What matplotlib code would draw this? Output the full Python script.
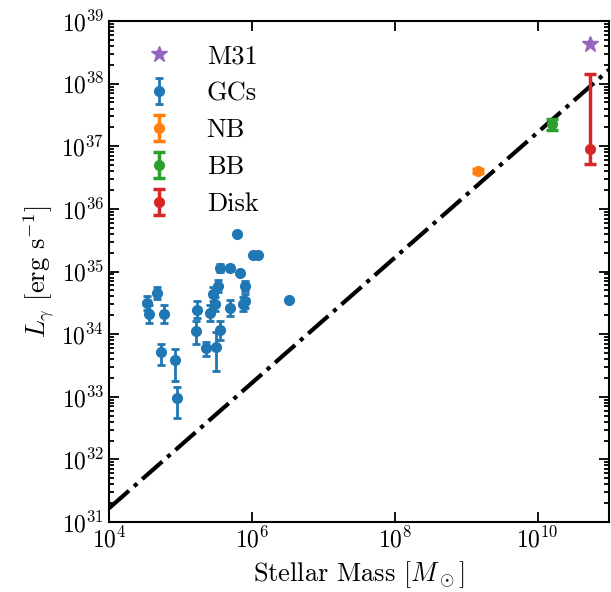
import numpy as np
import matplotlib
matplotlib.use("Agg")
import matplotlib.pyplot as plt
from matplotlib.ticker import LogLocator, NullLocator

plt.rcParams['font.family'] = 'serif'
plt.rcParams['font.serif'] = ['cmr10']
plt.rcParams['mathtext.fontset'] = 'cm'
plt.rcParams['axes.formatter.use_mathtext'] = True
plt.rcParams['font.size'] = 17

# globular clusters: stellar mass [Msun], L_gamma and its lower / upper bounds [erg/s]
gc_mass = [3.38e4, 3.64e4, 4.67e4, 5.97e4, 5.36e4, 8.43e4, 8.91e4, 1.70e5, 1.64e5,
           2.27e5, 3.14e5, 3.61e5, 2.61e5, 3.00e5, 2.90e5, 3.41e5, 3.61e5, 4.98e5,
           6.87e5, 6.18e5, 1.05e6, 1.23e6, 4.98e5, 8.07e5, 7.89e5, 7.57e5, 3.35e6]
gc_L = [3.12e34, 2.10e34, 4.60e34, 2.10e34, 5.25e33, 3.87e33, 9.46e32, 2.44e34, 1.12e34,
        5.96e33, 6.31e33, 1.17e34, 2.16e34, 3.01e34, 4.34e34, 5.96e34, 1.15e35, 1.13e35,
        9.40e34, 3.94e35, 1.84e35, 1.84e35, 2.65e34, 5.96e34, 3.39e34, 3.03e34, 3.52e34]
gc_lo = [2.41e34, 1.51e34, 3.69e34, 1.51e34, 3.22e33, 1.81e33, 4.54e32, 1.82e34, 6.97e33,
         4.44e33, 2.61e33, 8.07e33, 1.61e34, 2.32e34, 3.35e34, 4.78e34, 9.95e34, 1.01e35,
         8.73e34, 3.80e35, 1.71e35, 1.71e35, 1.98e34, 4.95e34, 2.62e34, 2.34e34, 3.27e34]
gc_hi = [4.04e34, 2.93e34, 5.74e34, 2.93e34, 6.97e33, 5.81e33, 1.42e33, 3.40e34, 1.63e34,
         7.43e33, 1.10e34, 1.63e34, 2.90e34, 3.89e34, 5.61e34, 7.43e34, 1.34e35, 1.26e35,
         1.01e35, 4.09e35, 1.98e35, 1.98e35, 3.56e34, 7.16e34, 4.39e34, 3.93e34, 3.78e34]

# M31 components
nb_mass, nb_L, nb_lo, nb_hi = [1.47e9], [4.05e36], [3.75e36], [4.35e36]
bb_mass, bb_L, bb_lo, bb_hi = [1.57e10], [2.25e37], [1.84e37], [2.75e37]
disk_mass, disk_L, disk_lo, disk_hi = [5.5e10], [9.0e36], [5.24e36], [1.42e38]
m31_mass, m31_L = [5.5e10], [4.27e38]

# L = ratio * M reference line
ratio = 1.66e27
line_mass = [1e4, 1e11]


def yerr(L, lo, hi):
    L = np.array(L)
    return [L - np.array(lo), np.array(hi) - L]


fig = plt.figure(figsize=(6.11, 5.92), dpi=100)
ax = fig.add_axes([0.1784, 0.1182, 0.8183, 0.8463])

ax.plot(line_mass, [ratio * m for m in line_mass], ls='-.', color='k', lw=3)
ax.plot(m31_mass, m31_L, ls='none', marker='*', ms=12, color='C4', label='M31')
ax.errorbar(gc_mass, gc_L, yerr=yerr(gc_L, gc_lo, gc_hi), fmt='o', ms=7, color='C0',
            elinewidth=2, capsize=3, capthick=2, label='GCs')
ax.errorbar(nb_mass, nb_L, yerr=yerr(nb_L, nb_lo, nb_hi), fmt='o', ms=7, color='C1',
            elinewidth=2.5, capsize=4, capthick=2.5, label='NB')
ax.errorbar(bb_mass, bb_L, yerr=yerr(bb_L, bb_lo, bb_hi), fmt='o', ms=7, color='C2',
            elinewidth=2.5, capsize=4, capthick=2.5, label='BB')
ax.errorbar(disk_mass, disk_L, yerr=yerr(disk_L, disk_lo, disk_hi), fmt='o', ms=7, color='C3',
            elinewidth=2.5, capsize=4, capthick=2.5, label='Disk')

ax.set_xscale('log')
ax.set_yscale('log')
ax.set_xlim(1e4, 1e11)
ax.set_ylim(1e31, 1e39)
ax.xaxis.set_major_locator(LogLocator(base=100))
ax.xaxis.set_minor_locator(NullLocator())
ax.yaxis.set_major_locator(LogLocator(base=10, numticks=20))
ax.yaxis.set_minor_locator(LogLocator(base=10, subs=np.arange(2, 10), numticks=20))
ax.tick_params(which='both', direction='in', top=True, right=True, width=1.3)
ax.tick_params(which='major', length=7)
ax.tick_params(which='minor', length=3.5)
for s in ax.spines.values():
    s.set_linewidth(1.5)

ax.set_xlabel(r'Stellar Mass [$M_\odot$]', fontsize=19, labelpad=5)
ax.set_ylabel(r'$L_\gamma$ [erg s$^{-1}$]', fontsize=19)
ax.legend(loc='upper left', frameon=False, fontsize=19)

fig.savefig('out.png', dpi=100)
